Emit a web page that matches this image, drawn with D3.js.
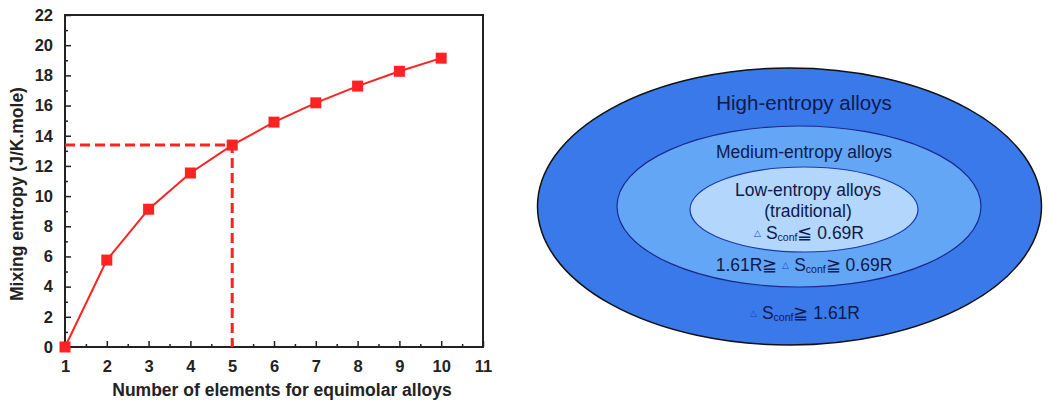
<!DOCTYPE html>
<html>
<head>
<meta charset="utf-8">
<script src="https://cdn.jsdelivr.net/npm/d3@7"></script>
<style>
  body { margin: 0; background: #fff; }
  svg text { font-family: "Liberation Sans", Arial, sans-serif; }
  .axis text { font-weight: bold; font-size: 16.5px; fill: #222; }
</style>
</head>
<body>
<svg id="fig" width="1051" height="405"></svg>
<script>
// element counts and mixing entropy values (J/K.mole)
const elementos = [1, 2, 3, 4, 5, 6, 7, 8, 9, 10]
const entropia = [0, 5.76, 9.13, 11.53, 13.38, 14.9, 16.18, 17.29, 18.27, 19.14]
const xTicks = [1, 2, 3, 4, 5, 6, 7, 8, 9, 10, 11]
const yTicks = [0, 2, 4, 6, 8, 10, 12, 14, 16, 18, 20, 22]
const destaque = 5   // marked point (dashed guide lines)

// nested ellipse diagram
const regioes = ['High-entropy alloys', 'Medium-entropy alloys', 'Low-entropy alloys']

const svg = d3.select('#fig')

/* ---------- left chart ---------- */
const margin = { top: 15, left: 65 }
const width = 418
const height = 332

const chart = svg.append('g')
  .attr('transform', `translate(${margin.left}, ${margin.top})`)

const xScale = d3.scaleLinear().domain([1, 11]).range([0, width])
const yScale = d3.scaleLinear().domain([0, 22]).range([height, 0])

// frame
chart.append('rect')
  .attr('width', width).attr('height', height)
  .attr('fill', 'none').attr('stroke', '#222').attr('stroke-width', 2)

// minor ticks
chart.append('g')
  .attr('transform', `translate(0, ${height})`)
  .call(d3.axisBottom(xScale).tickValues(d3.range(1.5, 11, 1)).tickSize(-3).tickFormat(''))
  .call(g => g.select('.domain').remove())
  .call(g => g.selectAll('line').attr('stroke', '#222').attr('stroke-width', 1.5))
chart.append('g')
  .call(d3.axisLeft(yScale).tickValues(d3.range(1, 22, 2)).tickSize(-3).tickFormat(''))
  .call(g => g.select('.domain').remove())
  .call(g => g.selectAll('line').attr('stroke', '#222').attr('stroke-width', 1.5))

/*eixo x*/
chart.append('g')
  .attr('class', 'axis')
  .attr('transform', `translate(0, ${height})`)
  .call(d3.axisBottom(xScale).tickValues(xTicks).tickSize(-6).tickPadding(13).tickFormat(d3.format('d')))
  .call(g => g.select('.domain').remove())
  .call(g => g.selectAll('line').attr('stroke', '#222').attr('stroke-width', 1.5))

/*eixo y*/
chart.append('g')
  .attr('class', 'axis')
  .call(d3.axisLeft(yScale).tickValues(yTicks).tickSize(-6).tickPadding(12).tickFormat(d3.format('d')))
  .call(g => g.select('.domain').remove())
  .call(g => g.selectAll('line').attr('stroke', '#222').attr('stroke-width', 1.5))

// axis titles
svg.append('text')
  .attr('x', margin.left + width / 2 + 8).attr('y', 396)
  .attr('text-anchor', 'middle')
  .attr('font-size', 17.5).attr('font-weight', 'bold').attr('fill', '#222')
  .text('Number of elements for equimolar alloys')
svg.append('text')
  .attr('transform', `translate(23, ${margin.top + height / 2 + 13}) rotate(-90)`)
  .attr('text-anchor', 'middle')
  .attr('font-size', 17.5).attr('font-weight', 'bold').attr('fill', '#222')
  .text('Mixing entropy (J/K.mole)')

const dados = elementos.map((n, i) => ({ n: n, s: entropia[i] }))
const red = '#ff2222'
const ponto = dados.find(d => d.n == destaque)

/*linhas tracejadas*/
chart.append('path')
  .attr('d', d3.line()([
    [xScale(1), yScale(ponto.s)],
    [xScale(ponto.n), yScale(ponto.s)],
    [xScale(ponto.n), yScale(0)]
  ]))
  .attr('fill', 'none').attr('stroke', red).attr('stroke-width', 3)
  .attr('stroke-dasharray', '10,5')

chart.append('path')
  .datum(dados)
  .attr('d', d3.line().x(d => xScale(d.n)).y(d => yScale(d.s)))
  .attr('fill', 'none').attr('stroke', red).attr('stroke-width', 2)

const sz = 11
chart.selectAll('.marker')
  .data(dados)
  .enter()
  .append('rect')
  .attr('class', 'marker')
  .attr('x', d => xScale(d.n) - sz / 2)
  .attr('y', d => yScale(d.s) - sz / 2)
  .attr('width', sz).attr('height', sz)
  .attr('fill', red)

/* ---------- right diagram ---------- */
const elipses = [
  { cx: 789.5, cy: 206.5, rx: 252, ry: 138.5, fill: '#3a79ea', stroke: '#111' },
  { cx: 799, cy: 206.5, rx: 182, ry: 80.5, fill: '#64a6f6', stroke: '#1a2a8a' },
  { cx: 804, cy: 209.5, rx: 114, ry: 42.5, fill: '#b3d6fc', stroke: '#1a3aa8' }
]
svg.selectAll('ellipse')
  .data(elipses)
  .enter()
  .append('ellipse')
  .attr('cx', d => d.cx).attr('cy', d => d.cy)
  .attr('rx', d => d.rx).attr('ry', d => d.ry)
  .attr('fill', d => d.fill).attr('stroke', d => d.stroke)
  .attr('stroke-width', (d, i) => i == 0 ? 1.5 : 1.2)

const navy = '#0d1a4e'
function rotulo(x, y, size, txt) {
  return svg.append('text').attr('x', x).attr('y', y)
    .attr('text-anchor', 'middle').attr('font-size', size).attr('fill', navy)
    .text(txt)
}
rotulo(804, 110, 20.5, regioes[0])
rotulo(804, 158, 17.5, regioes[1])
rotulo(808, 196, 17.5, regioes[2])
rotulo(808, 217, 17.5, '(traditional)')

// formulas with delta and subscript
function formula(x, y, size, antes, rel, depois) {
  const t = svg.append('text').attr('x', x).attr('y', y)
    .attr('text-anchor', 'middle').attr('font-size', size).attr('fill', navy)
  if (antes) t.append('tspan').text(antes + ' ')
  t.append('tspan').attr('font-size', size * 0.5).attr('fill', '#2244cc').attr('dy', -3).text('△')
  t.append('tspan').attr('dy', 3).text(' S')
  t.append('tspan').attr('font-size', size * 0.6).attr('dy', 2).text('conf')
  t.append('tspan').attr('dy', -2).text(rel + ' ' + depois)
}
formula(809, 239, 17.5, '', '≦', '0.69R')
formula(804, 271, 17.5, '1.61R≧', '≧', '0.69R')
formula(805, 319, 17.5, '', '≧', '1.61R')
</script>
</body>
</html>
